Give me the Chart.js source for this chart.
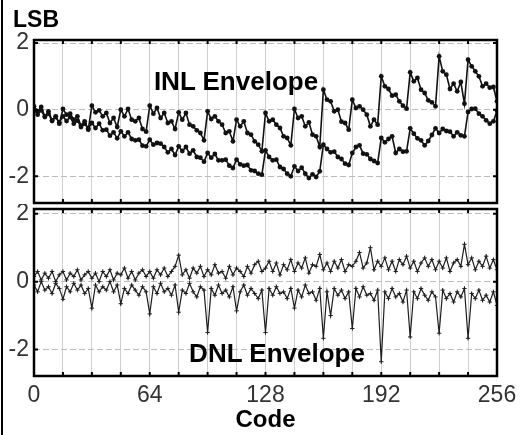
<!DOCTYPE html>
<html>
<head>
<meta charset="utf-8">
<script src="https://cdn.jsdelivr.net/npm/chart.js"></script>
<style>
  body { margin: 0; background: #fff; }
  #wrap { position: relative; width: 520px; height: 435px; overflow: hidden; }
  #edge { position: absolute; left: 1px; top: 0; width: 2px; height: 435px; background: #000; }
  canvas { position: absolute; left: 0; }
  #c1 { top: 0; }
  #c2 { top: 204px; }
  .lbl { position: absolute; font-family: 'Liberation Sans', Arial, sans-serif; font-weight: bold; color: #000; line-height: 1; white-space: nowrap; }
</style>
</head>
<body>
<div id="wrap">
  <div id="edge"></div>
  <canvas id="c1" width="520" height="207"></canvas>
  <canvas id="c2" width="520" height="231"></canvas>
  <div class="lbl" style="left:13px;top:8px;font-size:23px">LSB</div>
  <div class="lbl" style="left:136px;width:200px;text-align:center;top:68px;font-size:26px">INL Envelope</div>
  <div class="lbl" style="left:177px;width:200px;text-align:center;top:340px;font-size:26px">DNL Envelope</div>
</div>
<script>
// values every 2 codes, 0..256
const inlMax = [
  0.1, -0.05, 0.08, -0.2, -0.05, -0.32, -0.2, -0.42,
  0.02, -0.15, -0.12, -0.3, -0.2, -0.48, -0.35, -0.6,
  0.12, -0.08, -0.02, -0.2, -0.1, -0.4, -0.25, -0.52,
  0.0, -0.2, 0.02, -0.3, -0.35, -0.25, -0.58, -0.66,
  0.12, -0.12, 0.05, -0.25, -0.1, -0.4, -0.35, -0.58,
  -0.08, -0.3, -0.1, -0.45, -0.5, -0.62, -0.7, -0.92,
  -0.05, -0.28, -0.2, -0.35, -0.45, -0.7, -0.65, -0.95,
  -0.3, -0.5, -0.35, -0.7, -0.75, -0.95, -1.05, -1.25,
  -0.1, -0.35, -0.3, -0.45, -0.55, -0.8, -0.85, -1.07,
  0.02, -0.25, -0.2, -0.5, -0.38, -0.75, -0.8, -1.12,
  0.6, 0.3, 0.25, -0.05, 0.0, -0.36, -0.4, -0.6,
  0.3, 0.05, 0.1, 0.0, -0.15, -0.5, -0.3, -0.45,
  1.0, 0.7, 0.62, 0.42, 0.45, 0.25, 0.12, 0.03,
  1.12, 0.85, 0.95, 0.6, 0.5, 0.28, 0.22, 0.1,
  1.6, 1.15, 1.05, 0.62, 0.78, 0.55, 0.83, 0.18,
  1.5, 1.3, 1.15, 1.0, 0.7, 0.78, 0.66, 0.68,
  0.25
];
const inlMin = [
  0.0, -0.15, -0.02, -0.22, -0.12, -0.34, -0.22, -0.38,
  -0.2, -0.34, -0.22, -0.42, -0.33, -0.52, -0.42, -0.56,
  -0.4, -0.55, -0.42, -0.62, -0.6, -0.78, -0.68, -0.86,
  -0.65, -0.8, -0.68, -0.88, -0.92, -0.9, -1.08, -1.1,
  -0.9, -1.05, -1.0, -1.02, -1.12, -1.28, -1.18, -1.36,
  -1.1, -1.24, -1.12, -1.32, -1.22, -1.42, -1.44, -1.56,
  -1.3, -1.44, -1.33, -1.52, -1.52, -1.5, -1.68, -1.75,
  -1.5, -1.64, -1.68, -1.66, -1.82, -1.84, -1.92, -1.95,
  -1.22, -1.42, -1.52, -1.5, -1.72, -1.78, -1.92, -2.0,
  -1.7, -1.84, -1.74, -1.92, -2.05, -1.94, -2.02, -1.85,
  -1.05, -1.18, -1.28, -1.26, -1.42, -1.48, -1.62, -1.66,
  -1.3, -1.12, -1.07, -1.32, -1.34, -1.48, -1.54, -1.6,
  -0.85, -0.98, -0.88, -0.8, -1.3, -1.18, -1.26, -1.25,
  -0.56, -0.72, -0.86, -0.92, -1.07, -0.94, -0.76, -0.56,
  -0.7, -0.58, -0.64, -0.66, -0.8, -0.68, -0.77, -0.8,
  -0.07, 0.02, 0.03, -0.12, -0.2, -0.32, -0.42, -0.35,
  -0.03
];
const dnlMax = [
  0.15, 0.3, 0.05, 0.25, 0.1, 0.3, 0.0, 0.2, 0.3, 0.05, 0.25, 0.15, 0.35, 0.05, 0.2, 0.3,
  0.1, 0.25, 0.0, 0.3, 0.15, 0.35, 0.05, 0.25, 0.2, 0.4, 0.1, 0.3, 0.05, 0.25, 0.35, 0.15,
  0.3, 0.1, 0.35, 0.2, 0.4, 0.15, 0.3, 0.45, 0.78, 0.2, 0.35, 0.1, 0.4, 0.25, 0.45, 0.15,
  0.35, 0.2, 0.5, 0.25, 0.3, 0.1, 0.45, 0.2, 0.4, 0.3, 0.15, 0.45, 0.25, 0.5, 0.6, 0.3,
  0.4, 0.6, 0.3, 0.55, 0.2, 0.5, 0.35, 0.65, 0.3, 0.55, 0.4, 0.7, 0.25, 0.5, 0.45, 0.8,
  0.35, 0.55, 0.3, 0.6, 0.4, 0.65, 0.3, 0.5, 0.45, 0.6, 0.86, 0.4, 0.55, 1.0, 0.35, 0.6,
  0.45, 0.7, 0.35, 0.6, 0.3, 0.65, 0.5, 0.75, 0.4, 0.6, 0.3, 0.55, 0.7, 0.45, 0.65, 0.35,
  0.6, 0.4, 0.7, 0.3, 0.55, 0.65, 0.45, 1.1, 0.5, 0.7, 0.35, 0.6, 0.45, 0.75, 0.4, 0.65,
  0.35
];
const dnlMin = [
  -0.1, -0.3, 0.0, -0.25, -0.15, -0.35, -0.05, -0.2, -0.52, -0.15, -0.3, -0.05, -0.25, -0.1, -0.35, -0.2,
  -0.78, -0.1, -0.3, -0.15, -0.25, 0.0, -0.3, -0.1, -0.65, -0.2, -0.35, -0.1, -0.25, -0.4, -0.15, -0.3,
  -0.95, -0.15, -0.35, -0.05, -0.3, -0.2, -0.4, -0.1, -0.9, -0.25, -0.35, -0.05, -0.3, -0.45, -0.15, -0.25,
  -1.5, -0.2, -0.4, -0.1, -0.35, -0.25, -0.45, -0.15, -0.86, -0.3, -0.1, -0.4, -0.2, -0.35, -0.5, -0.25,
  -1.5, -0.2, -0.4, -0.15, -0.35, -0.3, -0.5, -0.2, -0.78, -0.25, -0.45, -0.1, -0.35, -0.3, -0.55, -0.2,
  -1.67, -0.3, -1.0, -0.2, -0.4, -0.25, -0.5, -0.3, -1.38, -0.2, -0.45, -0.15, -0.4, -0.35, -0.55, -0.25,
  -2.36, -0.3, -0.5, -0.2, -0.45, -0.35, -0.6, -0.25, -1.63, -0.3, -0.5, -0.2, -0.4, -0.55, -0.3, -0.45,
  -1.52, -0.25, -0.5, -0.35, -0.6, -0.3, -0.45, -0.2, -1.67, -0.35, -0.5, -0.25, -0.55, -0.4, -0.6, -0.3,
  -0.7
];
const codes = inlMax.map((v, i) => i * 2);
const xLabels = [0, 64, 128, 192, 256];
const yLabels = [-2, 0, 2];

const FONT = "'Liberation Sans', Arial, sans-serif";

const frame = {
  id: 'frame',
  afterDraw(chart) {
    const { ctx, chartArea: a, scales } = chart;
    ctx.save();
    ctx.strokeStyle = '#000';
    ctx.lineWidth = 2;
    for (let v = 16; v < 256; v += 16) {
      const x = scales.x.getPixelForValue(v);
      ctx.beginPath();
      ctx.moveTo(x, a.top); ctx.lineTo(x, a.top + 4);
      ctx.moveTo(x, a.bottom); ctx.lineTo(x, a.bottom - 4);
      ctx.stroke();
    }
    yLabels.forEach(v => {
      const y = scales.y.getPixelForValue(v);
      ctx.beginPath();
      ctx.moveTo(a.left, y); ctx.lineTo(a.left + 4, y);
      ctx.moveTo(a.right, y); ctx.lineTo(a.right - 4, y);
      ctx.stroke();
    });
    ctx.lineWidth = 2.5;
    ctx.strokeRect(a.left, a.top, a.right - a.left, a.bottom - a.top);
    ctx.restore();
  }
};

function series(data, color, width, radius, style) {
  return {
    data: data.map((v, i) => ({ x: codes[i], y: v })),
    borderColor: color,
    borderWidth: width,
    pointRadius: radius,
    pointStyle: style,
    pointBackgroundColor: color,
    pointBorderColor: color,
    pointBorderWidth: style === 'cross' ? 1 : 0,
    tension: 0
  };
}

function panel(id, datasets, yMin, yMax, bottom) {
  return new Chart(document.getElementById(id), {
    type: 'line',
    data: { datasets },
    plugins: [frame],
    options: {
      responsive: false,
      animation: false,
      layout: { padding: { left: 0, right: 23, top: bottom ? 1 : 40, bottom: bottom ? 0 : 2 } },
      plugins: { legend: { display: false }, tooltip: { enabled: false } },
      scales: {
        x: {
          type: 'linear', min: 0, max: 256,
          ticks: {
            display: bottom, stepSize: 16, autoSkip: false, maxRotation: 0, padding: 6,
            color: '#333', font: { family: FONT, size: 23 },
            callback: v => xLabels.includes(v) ? String(v) : ''
          },
          grid: { color: '#cfcfcf', lineWidth: 1, drawTicks: false },
          border: { display: false },
          title: {
            display: bottom, text: 'Code', color: '#000', padding: 0,
            font: { family: FONT, size: 24, weight: 'bold' }
          },
          afterFit: s => { s.height = bottom ? 59 : 0; s.paddingLeft = 0; s.paddingRight = 0; }
        },
        y: {
          min: yMin, max: yMax,
          afterBuildTicks: s => { s.ticks = yLabels.map(v => ({ value: v })); },
          ticks: { color: '#333', padding: 5, font: { family: FONT, size: 23 } },
          grid: { color: '#bdbdbd', lineWidth: 1, drawTicks: false },
          border: { display: false, dash: [6, 3] },
          afterFit: s => { s.width = 34; s.paddingTop = 0; s.paddingBottom = 0; }
        }
      }
    }
  });
}

panel('c1', [
  series(inlMax, '#111', 1.6, 2.4, 'circle'),
  series(inlMin, '#111', 1.6, 2.4, 'circle')
], -2.8, 2.09, false);

panel('c2', [
  series(dnlMax, '#1e1e1e', 1.2, 2.2, 'cross'),
  series(dnlMin, '#1e1e1e', 1.2, 2.2, 'cross')
], -2.78, 2.14, true);
</script>
</body>
</html>
